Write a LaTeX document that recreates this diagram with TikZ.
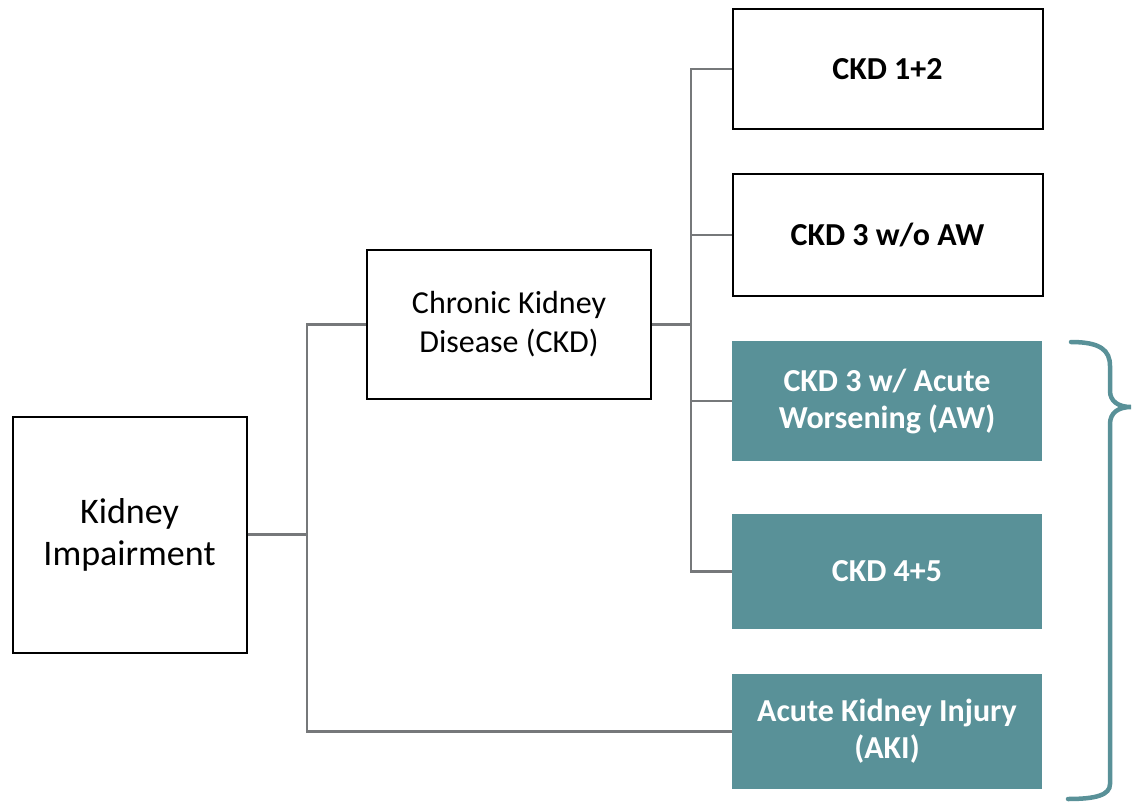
\documentclass[tikz,border=0pt]{standalone}
\usepackage{fontspec}
\setmainfont{Carlito}
\usepackage{xcolor}
\definecolor{petroleo}{RGB}{89, 145, 152}
\definecolor{grisLinea}{RGB}{118, 120, 122}
\usetikzlibrary{positioning}
\tikzstyle{edge}  =[grisLinea, line width=2.2pt]
\tikzstyle{wbox}  =[draw, line width=2pt, align=center,
                    inner sep=0pt, minimum width=310pt]
\tikzstyle{tbox}  =[fill=petroleo, text=white, align=center,
                    inner sep=0pt, minimum width=310pt,
                    font=\fontsize{32}{37}\selectfont\bfseries]
\tikzstyle{brace} =[petroleo, line width=4.5pt, line cap=round]

\begin{document}
\begin{tikzpicture}[x=1pt,y=-1pt]
    \useasboundingbox (0,0) rectangle (1132,803);

    % left side
    \node (ki) [wbox, minimum width=234pt, minimum height=236pt,
        font=\fontsize{36}{42}\selectfont] at (129.5,534.5) {Kidney\\Impairment};
    \node (ckd) [wbox, minimum width=284pt, minimum height=149pt,
        font=\fontsize{32}{39}\selectfont] at (509,324.5) {Chronic Kidney\\Disease (CKD)};

    % right column
    \node (c12) [wbox, minimum height=120pt, font=\fontsize{32}{37}\selectfont\bfseries]
        at (887.5,69) {CKD 1+2};
    \node (c3) [wbox, minimum height=122pt, font=\fontsize{32}{37}\selectfont\bfseries]
        at (887.5,235) {CKD 3 w/o AW};
    \node (c3aw) [tbox, minimum height=120pt] at (887,401) {CKD 3 w/ Acute\\Worsening (AW)};
    \node (c45) [tbox, minimum height=115pt] at (887,571.5) {CKD 4+5};
    \node (aki) [tbox, minimum height=115pt] at (887,731.5) {Acute Kidney Injury\\(AKI)};

    \coordinate (j1) at (307,534.5);
    \coordinate (j2) at (691,324.5);

    \draw [edge] (ki.east) -- (j1);
    \draw [edge] (j1) |- (ckd.west);
    \draw [edge] (j1) |- (aki.west);
    \draw [edge] (ckd.east) -- (j2);
    \foreach \n in {c12,c3,c3aw,c45}
        \draw [edge] (j2) |- (\n.west);

    % brace
    \draw [brace] (1071,342) .. controls (1100,342) and (1110,350) .. (1110,366)
        -- (1110,391) .. controls (1110,401) and (1118,407) .. (1131,407)
        .. controls (1118,407) and (1110,413) .. (1110,424)
        -- (1110,784) .. controls (1110,795) and (1096,799) .. (1068,799);
\end{tikzpicture}
\end{document}
